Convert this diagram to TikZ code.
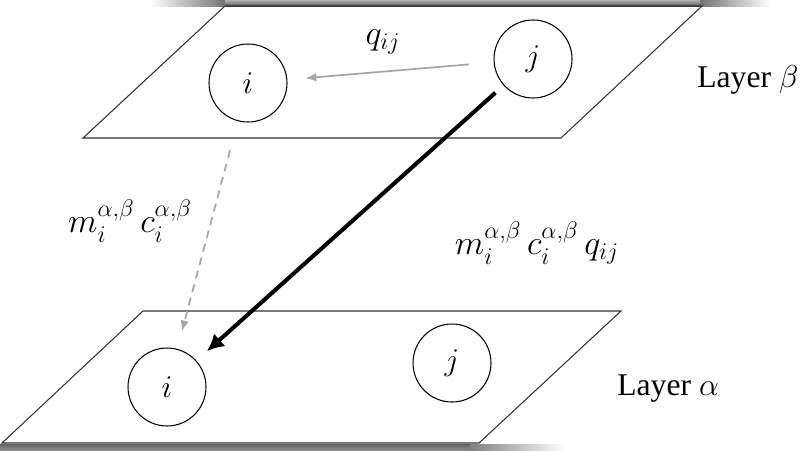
\RequirePackage{fix-cm}
\documentclass[tikz,border=0pt]{standalone}
\usepackage{amsmath,amssymb}
\usepackage{fontspec}
\setmainfont{Liberation Serif}
\usepackage{tikz}
\usetikzlibrary{arrows.meta}

\begin{document}
\begin{tikzpicture}[x=0.02cm, y=-0.02cm,
        vertex/.style={circle, draw, line width=0.6pt, minimum size=1.56cm, inner sep=0pt, font=\fontsize{18}{21}\selectfont},
        plane/.style={draw=black!80, line width=0.6pt},
        lbl/.style={font=\fontsize{19.5}{22}\selectfont},
        layerlbl/.style={font=\fontsize{18}{21}\selectfont, inner sep=0pt, anchor=base west},
        greyarrow/.style={draw=black!35, line width=1pt, -{Latex[length=0.22cm,width=0.17cm]}},
        mainarrow/.style={draw=black, line width=2.3pt, -{Latex[length=0.34cm,width=0.34cm]}}]
        \useasboundingbox (0,0) rectangle (800,450);

        % shadow of the frame
        \shade[left color=white, right color=black!55] (150,0) rectangle (225,6);
        \shade[top color=black!30, bottom color=black!65] (225,0) rectangle (700,6);
        \shade[left color=black!55, right color=white] (700,0) rectangle (770,6);
        \shade[top color=black!60, bottom color=black!45] (0,444) rectangle (470,450);
        \shade[left color=black!50, right color=white] (470,444) rectangle (565,450);

        % layers
        \draw[plane] (225,6) -- (702,6) -- (561,138) -- (83,138) -- cycle;
        \draw[plane] (143,311) -- (621,311) -- (479,443) -- (2,443) -- cycle;

        \node[vertex] (bi) at (248,83) {$i$};
        \node[vertex] (bj) at (533,59) {$j$};
        \node[vertex] (ai) at (167,387) {$i$};
        \node[vertex] (aj) at (452,363) {$j$};

        \node[layerlbl] (lb) at (697,87) {Layer $\beta$};
        \node[layerlbl] (la) at (617,395) {Layer $\alpha$};

        \draw[greyarrow, shorten <=0.5cm, shorten >=0.36cm] (bj) to (bi);
        \node[lbl] (q) at (383,42) {$q_{ij}$};

        \draw[greyarrow, dash pattern=on 4.5pt off 3.4pt, shorten <=0.6cm, shorten >=0.36cm] (bi) to (ai);
        \node[lbl] (mc) at (130,221) {$m_i^{\alpha,\beta}\,c_i^{\alpha,\beta}$};

        \draw[mainarrow, shorten <=0.22cm, shorten >=0.28cm] (bj) to (ai);
        \node[lbl] (mcq) at (537,243) {$m_i^{\alpha,\beta}\,c_i^{\alpha,\beta}\,q_{ij}$};
\end{tikzpicture}
\end{document}
